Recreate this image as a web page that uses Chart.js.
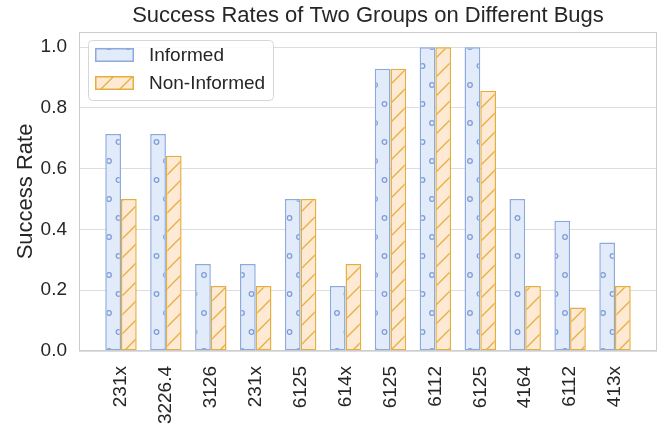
<!DOCTYPE html>
<html>
<head>
<meta charset="utf-8">
<script src="https://cdn.jsdelivr.net/npm/chart.js@4.4.1/dist/chart.umd.min.js"></script>
<style>
    html, body { margin: 0; padding: 0; background: #ffffff; }
    #wrap { width: 665px; height: 424px; position: relative; }
</style>
</head>
<body>
<div id="wrap"><canvas id="successChart"></canvas></div>
<script>
    // ── Data ─────────────────────────────────────────────────────────────────
    const bugLabels = ['231x', '3226.4', '3126', '231x', '6125', '614x', '6125', '6112', '6125', '4164', '6112', '413x'];
    const informedRates = [0.714, 0.714, 0.286, 0.286, 0.5, 0.214, 0.929, 1.0, 1.0, 0.5, 0.429, 0.357];
    const nonInformedRates = [0.5, 0.643, 0.214, 0.214, 0.5, 0.286, 0.929, 1.0, 0.857, 0.214, 0.143, 0.214];
    const yTickValues = [0, 0.2, 0.4, 0.6, 0.8, 1.0];
    const seriesNames = ['Informed', 'Non-Informed'];

    const FONT = "'Liberation Sans', Arial, sans-serif";
    const TEXT = '#262626';

    // ── Hatch patterns (dots for Informed, slashes for Non-Informed) ─────────
    function dotPattern(fill, stroke) {
        const c = document.createElement('canvas');
        c.width = 19; c.height = 38;
        const g = c.getContext('2d');
        g.fillStyle = fill;
        g.fillRect(0, 0, 19, 38);
        g.strokeStyle = stroke;
        g.lineWidth = 1.3;
        [[14, 9], [4.5, 28]].forEach(([x, y]) => {
            g.beginPath();
            g.arc(x, y, 2.3, 0, Math.PI * 2);
            g.stroke();
        });
        return g.createPattern(c, 'repeat');
    }

    function slashPattern(fill, stroke) {
        const s = 19;
        const c = document.createElement('canvas');
        c.width = s; c.height = s;
        const g = c.getContext('2d');
        g.fillStyle = fill;
        g.fillRect(0, 0, s, s);
        g.strokeStyle = stroke;
        g.lineWidth = 1.3;
        g.beginPath();
        g.moveTo(-2, s + 2); g.lineTo(s + 2, -2);
        g.moveTo(-2, 2); g.lineTo(2, -2);
        g.moveTo(s - 2, s + 2); g.lineTo(s + 2, s - 2);
        g.stroke();
        return g.createPattern(c, 'repeat');
    }

    const blueEdge = '#8ea9de';
    const orangeEdge = '#e6ae3c';
    const bluePattern = dotPattern('#e2ebfa', '#7f9dd6');
    const orangePattern = slashPattern('#fde9d4', '#e6ae3c');

    // ── Frame + in-plot legend ───────────────────────────────────────────────
    const frameAndLegend = {
        id: 'frameAndLegend',
        afterDatasetsDraw(chart) {
            const { ctx, chartArea: a } = chart;
            ctx.save();
            ctx.strokeStyle = '#cccccc';
            ctx.lineWidth = 1;
            ctx.strokeRect(Math.round(a.left) + 0.5, Math.round(a.top) + 0.5,
                Math.round(a.right - a.left) - 1, Math.round(a.bottom - a.top) - 1);
            ctx.restore();
        },
        afterDraw(chart) {
            const ctx = chart.ctx;
            ctx.save();
            ctx.beginPath();
            ctx.roundRect(88.5, 40.5, 185, 60, 4);
            ctx.fillStyle = 'rgba(255,255,255,0.85)';
            ctx.fill();
            ctx.strokeStyle = '#d6d6d6';
            ctx.lineWidth = 1;
            ctx.stroke();

            chart.data.datasets.forEach((ds, i) => {
                const y = 48 + i * 28;
                ctx.fillStyle = ds.backgroundColor;
                ctx.fillRect(95, y, 39, 14);
                ctx.strokeStyle = ds.borderColor;
                ctx.lineWidth = 1.5;
                ctx.strokeRect(95.75, y + 0.75, 37.5, 12.5);
                ctx.fillStyle = TEXT;
                ctx.font = '19px ' + FONT;
                ctx.textBaseline = 'middle';
                ctx.textAlign = 'left';
                ctx.fillText(ds.label, 149, y + 7.5);
            });
            ctx.restore();
        }
    };

    // ── Chart ────────────────────────────────────────────────────────────────
    const ctx = document.getElementById('successChart');
    new Chart(ctx, {
        type: 'bar',
        data: {
            datasets: [{
                label: seriesNames[0],
                data: informedRates.map((v, i) => ({ x: i, y: v })),
                backgroundColor: bluePattern,
                borderColor: blueEdge,
                borderWidth: 1.5,
                borderSkipped: false
            }, {
                label: seriesNames[1],
                data: nonInformedRates.map((v, i) => ({ x: i, y: v })),
                backgroundColor: orangePattern,
                borderColor: orangeEdge,
                borderWidth: 1.5,
                borderSkipped: false
            }]
        },
        options: {
            responsive: true,
            maintainAspectRatio: false,
            animation: false,
            categoryPercentage: 0.7,
            barPercentage: 1.0,
            layout: { padding: { left: 0, right: 8, top: 0, bottom: 0 } },
            plugins: {
                legend: { display: false },
                tooltip: { enabled: false },
                title: {
                    display: true,
                    text: 'Success Rates of Two Groups on Different Bugs',
                    fullSize: false,
                    color: TEXT,
                    font: { family: FONT, size: 22, weight: 'normal', lineHeight: 1.2 },
                    padding: { top: 3, bottom: 2.6 }
                }
            },
            scales: {
                x: {
                    type: 'linear',
                    offset: false,
                    min: -0.935,
                    max: 11.935,
                    grid: { display: false, offset: false },
                    border: { display: false },
                    afterBuildTicks: scale => {
                        scale.ticks = bugLabels.map((_, i) => ({ value: i }));
                    },
                    afterFit: scale => { scale.height = 73; },
                    ticks: {
                        autoSkip: false,
                        minRotation: 90,
                        maxRotation: 90,
                        padding: 7,
                        color: TEXT,
                        font: { family: FONT, size: 19 },
                        callback: value => bugLabels[value] ?? ''
                    }
                },
                y: {
                    min: 0,
                    max: 1.05,
                    grid: { color: '#dddddd', lineWidth: 1, drawTicks: false },
                    border: { display: false },
                    afterBuildTicks: scale => {
                        scale.ticks = yTickValues.map(v => ({ value: v }));
                    },
                    afterFit: scale => { scale.width = 79; },
                    ticks: {
                        padding: 12,
                        color: TEXT,
                        font: { family: FONT, size: 19 },
                        callback: value => Number(value).toFixed(1)
                    },
                    title: {
                        display: true,
                        text: 'Success Rate',
                        color: TEXT,
                        font: { family: FONT, size: 22, lineHeight: 1.2 },
                        padding: { top: 13, bottom: 0 }
                    }
                }
            }
        },
        plugins: [frameAndLegend]
    });
</script>
</body>
</html>
